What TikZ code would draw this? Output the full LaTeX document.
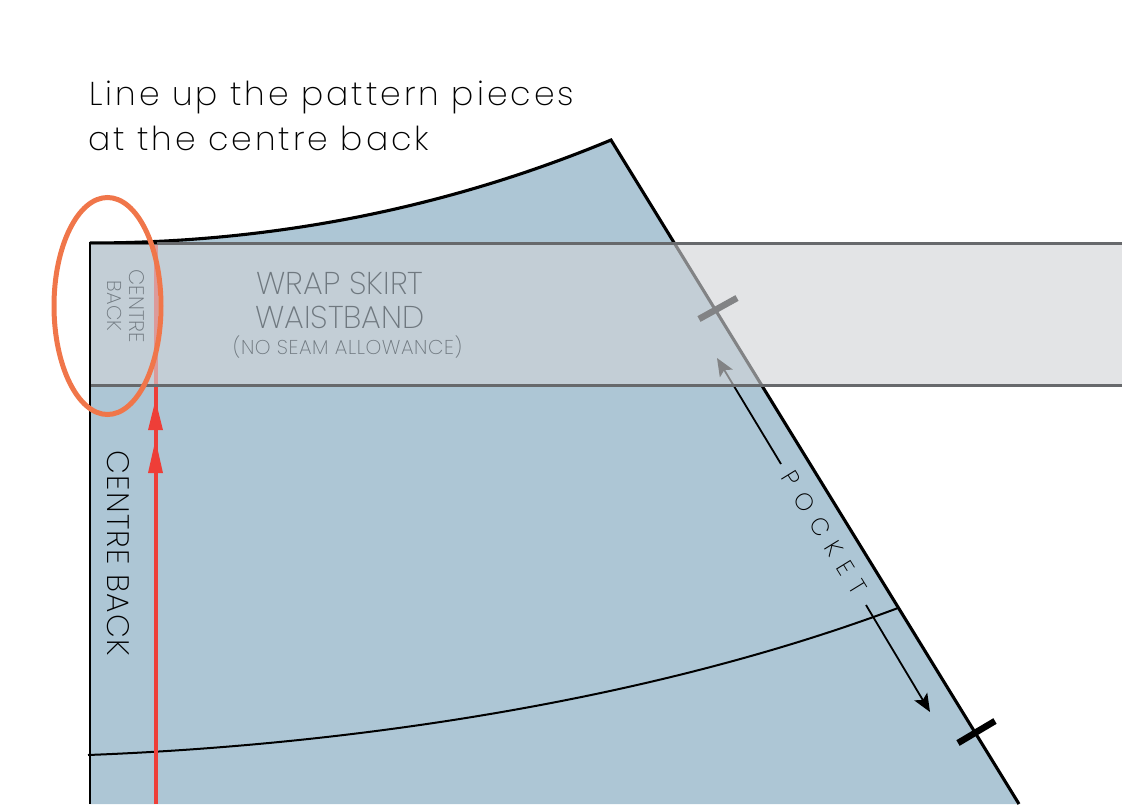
\documentclass[tikz,border=0pt]{standalone}
\usepackage{fontspec}
\setmainfont{Poppins ExtraLight}
\newfontfamily\wideH[LetterSpace=9.2]{Poppins ExtraLight}
\newfontfamily\wideP[LetterSpace=44]{Poppins ExtraLight}
\newfontfamily\wideS[LetterSpace=3]{Poppins ExtraLight}
\newfontfamily\wideC[LetterSpace=4]{Poppins ExtraLight}
\usetikzlibrary{arrows.meta}
\definecolor{skirt}{HTML}{ADC6D5}
\definecolor{bandfill}{HTML}{D2D4D7}
\definecolor{bandline}{HTML}{67696C}
\definecolor{redline}{HTML}{EE3E38}
\definecolor{orangering}{HTML}{F0764A}
\definecolor{bandtext}{HTML}{6F787F}
\tikzset{
  edge/.style={draw=black,line width=3.1pt},
  leftedge/.style={draw=black,line width=2.6pt},
  thinedge/.style={draw=black,line width=2pt},
  notch/.style={draw=black,line width=6.5pt},
  pocketarrow/.style={draw=black,line width=1.8pt,-{Stealth[length=18pt,width=15pt,inset=4pt]}},
  redtip/.style={fill=redline,draw=none},
  label/.style={inner sep=0pt,outer sep=0pt},
}
\begin{document}
\begin{tikzpicture}[x=1pt,y=-1pt]
\useasboundingbox (0,0) rectangle (1122,804);
\clip (0,0) rectangle (1122,804);
% coordinates
\coordinate (tl) at (90,243);
\coordinate (tm) at (157,243);
\coordinate (peak) at (611,140);
\coordinate (br) at (1019,804);
\coordinate (bl) at (90,804);
\coordinate (hemL) at (88,755);
\coordinate (hemR) at (898,608);
\coordinate (n1a) at (699,319);
\coordinate (n1b) at (737,298);
\coordinate (n2a) at (958,743);
\coordinate (n2b) at (995,721);
\coordinate (upS) at (781,464);
\coordinate (upE) at (717,358);
\coordinate (dnS) at (866,605);
\coordinate (dnE) at (930,712);
\coordinate (redS) at (156,804);
\coordinate (redE) at (156,243);
% skirt
\fill[skirt] (tl) .. controls (280,243) and (455,205) .. (peak) -- (br) -- (bl) -- cycle;
\draw[thinedge] (hemL) .. controls (350,745) and (650,701) .. (hemR);
\draw[edge,line join=miter] (tl) .. controls (280,243) and (455,205) .. (peak) -- (br);
\draw[notch] (n1a) -- (n1b);
\draw[notch] (n2a) -- (n2b);
\draw[pocketarrow] (upS) -- (upE);
\draw[pocketarrow] (dnS) -- (dnE);
\draw[draw=redline,line width=3.6pt] (redS) -- (redE);
\fill[redtip] (155.5,400) -- (163,430) -- (148,430) -- cycle;
\fill[redtip] (155.5,440) -- (163,473) -- (148,473) -- cycle;
% waistband
\fill[bandfill,fill opacity=.62] (90,243) rectangle (1122,385);
\draw[bandline,line width=3pt] (90,243) -- (1122,243);
\draw[bandline,line width=3pt] (90,385) -- (1122,385);
\draw[leftedge,line join=miter] (bl) -- (tl) -- (tm);
% texts
\node[label,anchor=base west,font=\fontsize{33}{36}\selectfont\wideH] (t1) at (89,105) {Line up the pattern pieces};
\node[label,anchor=base west,font=\fontsize{33}{36}\selectfont\wideH] (t2) at (88,150) {at the centre back};
\node[label,rotate=-90,font=\fontsize{31}{34}\selectfont\wideC] (cb) at (118,553.5) {CENTRE BACK};
\node[label,rotate=-58.4,font=\fontsize{24}{26}\selectfont\wideP] (pk) at (824,533) {POCKET};
\node[label,text=bandtext,font=\fontsize{31.5}{34}\selectfont] (w1) at (340,283) {WRAP SKIRT};
\node[label,text=bandtext,font=\fontsize{31.5}{34}\selectfont] (w2) at (340,317) {WAISTBAND};
\node[label,text=bandtext,font=\fontsize{20}{22}\selectfont\wideS] (w3) at (347.5,347) {(NO SEAM ALLOWANCE)};
\node[label,rotate=-90,text=bandtext,font=\fontsize{21}{23}\selectfont] (c1) at (136.5,306) {CENTRE};
\node[label,rotate=-90,text=bandtext,font=\fontsize{20}{22}\selectfont] (c2) at (114.5,306) {BACK};
% ring
\draw[orangering,line width=5pt] (107.5,306) ellipse [x radius=53.5,y radius=108.5];
\end{tikzpicture}
\end{document}
